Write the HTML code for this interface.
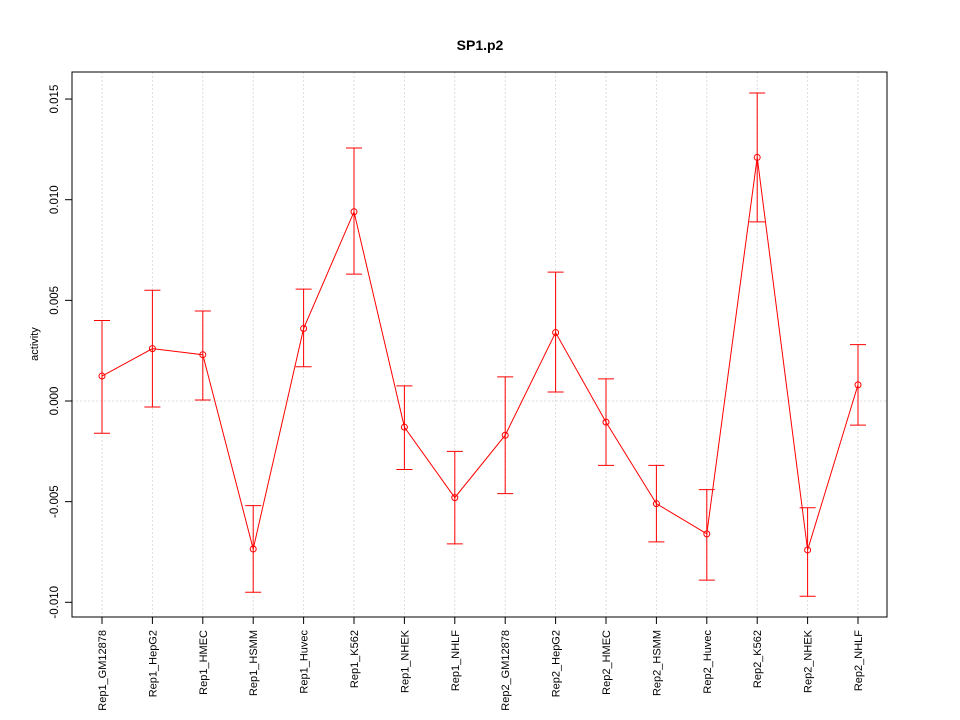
<!DOCTYPE html>
<html><head><meta charset="utf-8"><style>
body{margin:0;background:#fff;}
svg{display:block;font-family:"Liberation Sans",sans-serif;}
</style></head><body>
<svg id="chart" width="960" height="720" xmlns="http://www.w3.org/2000/svg">
<rect width="960" height="720" fill="#fff"/>
<text x="480" y="50" text-anchor="middle" font-size="14" font-weight="bold">SP1.p2</text>
<text transform="translate(38,344) rotate(-90)" text-anchor="middle" font-size="11">activity</text>
<g id="grid"></g><g id="axes"></g><g id="series"></g>
<rect x="72" y="72" width="815" height="545" fill="none" stroke="#000"/>
</svg>
<script>
const categories=["Rep1_GM12878","Rep1_HepG2","Rep1_HMEC","Rep1_HSMM","Rep1_Huvec","Rep1_K562","Rep1_NHEK","Rep1_NHLF","Rep2_GM12878","Rep2_HepG2","Rep2_HMEC","Rep2_HSMM","Rep2_Huvec","Rep2_K562","Rep2_NHEK","Rep2_NHLF"];
const values=[0.00124,0.0026,0.0023,-0.00735,0.0036,0.0094,-0.0013,-0.0048,-0.0017,0.0034,-0.00105,-0.0051,-0.0066,0.0121,-0.0074,0.0008];
const upper=[0.0040,0.0055,0.00447,-0.0052,0.00556,0.01257,0.00075,-0.0025,0.0012,0.0064,0.0011,-0.0032,-0.0044,0.0153,-0.0053,0.0028];
const lower=[-0.0016,-0.0003,0.00005,-0.0095,0.0017,0.0063,-0.0034,-0.0071,-0.0046,0.00045,-0.0032,-0.0070,-0.0089,0.0089,-0.0097,-0.0012];
const yTicks=[-0.010,-0.005,0.000,0.005,0.010,0.015];
const yTickLabels=["-0.010","-0.005","0.000","0.005","0.010","0.015"];
const NS="http://www.w3.org/2000/svg";
const yS=v=>401-v/0.001*20.13;
const xS=i=>102+i*50.4;
function mk(tag,attrs,parent){const e=document.createElementNS(NS,tag);for(const k in attrs)e.setAttribute(k,attrs[k]);parent.appendChild(e);return e;}
const grid=document.getElementById('grid'),axes=document.getElementById('axes'),ser=document.getElementById('series');
let zl=mk('line',{x1:72,x2:887,y1:yS(0),y2:yS(0),stroke:'#dcdcdc','stroke-dasharray':'2,2'},grid);

yTicks.forEach((t,i)=>{const y=yS(t);
 let tk=mk('line',{x1:65,x2:72,y1:y,y2:y,stroke:'#000'},axes);
 
 let tx=mk('text',{transform:`translate(58,${y}) rotate(-90)`,'text-anchor':'middle','font-size':11.5},axes);tx.textContent=yTickLabels[i];
 
});
categories.forEach((c,i)=>{const x=xS(i);
 let g=mk('line',{x1:x,x2:x,y1:72,y2:617,stroke:'#dcdcdc','stroke-dasharray':'2,2'},grid);
 
 let tk=mk('line',{x1:x,x2:x,y1:617,y2:624,stroke:'#000'},axes);
 
 let tx=mk('text',{transform:`translate(${x+4},630) rotate(-90)`,'text-anchor':'end','font-size':11},axes);tx.textContent=c;
 
});
let pts=values.map((v,i)=>xS(i)+','+yS(v)).join(' ');
let pl=mk('polyline',{points:pts,fill:'none',stroke:'#ff0000'},ser);

values.forEach((v,i)=>{const x=xS(i);
 let e=mk('path',{d:`M${x},${yS(upper[i])}V${yS(lower[i])}M${x-8},${yS(upper[i])}H${x+8}M${x-8},${yS(lower[i])}H${x+8}`,stroke:'#ff0000',fill:'none'},ser);
 
 let p=mk('circle',{cx:x,cy:yS(v),r:3,fill:'none',stroke:'#ff0000'},ser);
 
});
</script>
</body></html>
